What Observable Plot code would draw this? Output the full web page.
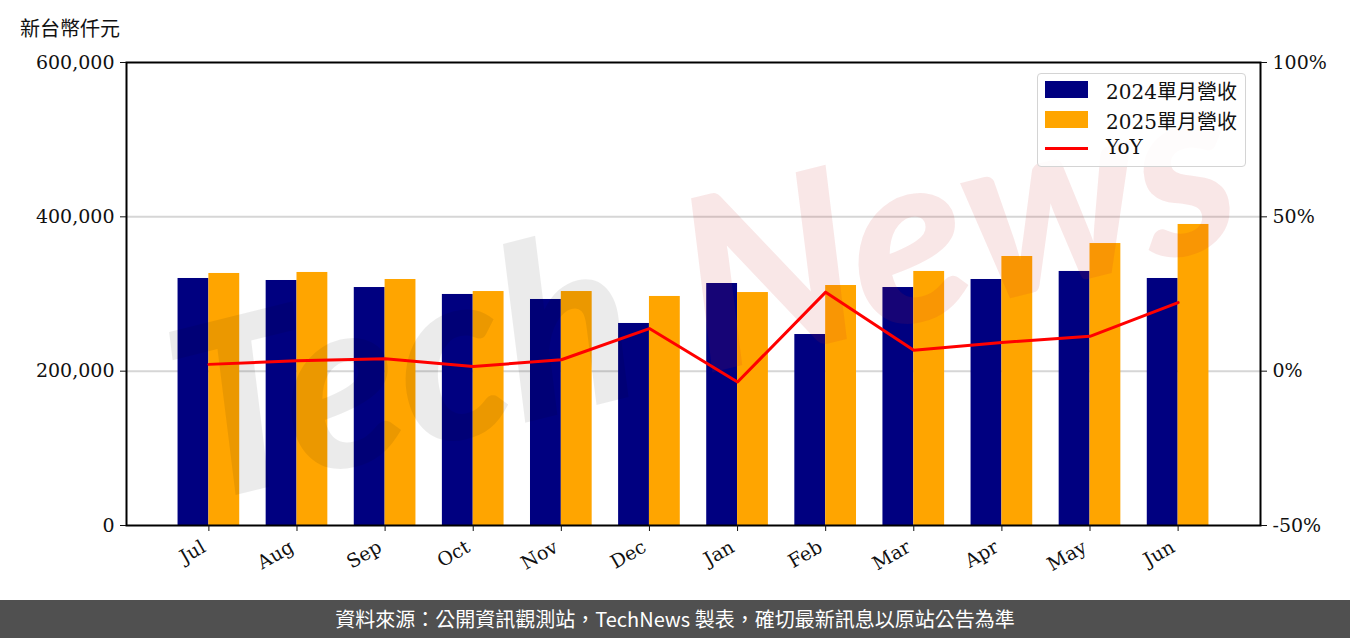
<!DOCTYPE html>
<html>
<head>
<meta charset="utf-8">
<script src="https://cdn.jsdelivr.net/npm/d3@7"></script>
<script src="https://cdn.jsdelivr.net/npm/@observablehq/plot@0.6"></script>
<style>
  html, body { margin: 0; padding: 0; background: #fff; }
  #wrap { position: relative; width: 1350px; height: 638px; overflow: hidden; }
  #title { position: absolute; left: 20px; top: 13px; font: 20px "Noto Sans CJK TC", sans-serif; color: #111; }
  #legend { position: absolute; left: 1037px; top: 73px; width: 207px; height: 92px; border: 1.5px solid #d4d4d4; border-radius: 4px; background: rgba(255,255,255,0.85); }
  .row { position: absolute; left: 0; height: 29px; width: 207px; }
  .sw { position: absolute; left: 7px; width: 43px; }
  .lab { position: absolute; left: 68px; font: 20px "DejaVu Serif", "Noto Sans CJK TC", serif; color: #111; white-space: nowrap; }
  #footer { position: absolute; left: 0; top: 600px; width: 1350px; height: 38px; background: #505050; color: #fff; font: 20px "Noto Sans CJK TC", sans-serif; text-align: center; line-height: 38px; }
  #chart { position: absolute; left: 0; top: 0; }
</style>
</head>
<body>
<div id="wrap">
  <div id="chart"></div>
  <div id="title">新台幣仟元</div>
  <div id="legend"></div>
  <div id="footer">資料來源：公開資訊觀測站，TechNews 製表，確切最新訊息以原站公告為準</div>
</div>
<script>
const months = ["Jul","Aug","Sep","Oct","Nov","Dec","Jan","Feb","Mar","Apr","May","Jun"];
const rev2024 = [320100, 317500, 308400, 299400, 292900, 261800, 313600, 247500, 308400, 318800, 329200, 320100];
const rev2025 = [326600, 327900, 318800, 303200, 303200, 296800, 301900, 311000, 329200, 348600, 365400, 390100];
const yoy = [2.2, 3.4, 4.0, 1.5, 3.7, 13.8, -3.5, 25.6, 6.8, 9.3, 11.3, 22.2];
const leftTicks = [0, 200000, 400000, 600000];
const rightTickLabels = ["-50%", "0%", "50%", "100%"];
const seriesNames = ["2024單月營收", "2025單月營收", "YoY"];
const colors = ["#000080", "#FFA500", "#FF0000"];

// right axis: -50%..100% mapped onto the left 0..600,000 range
const pctToLeft = p => (p + 50) / 150 * 600000;

const data = months.map((m, i) => ({i, m, a: rev2024[i], b: rev2025[i], yoy: yoy[i]}));
const W = 0.35;
const tickFont = `"DejaVu Serif", serif`;

const chart = Plot.plot({
  width: 1350,
  height: 600,
  marginLeft: 126,
  marginRight: 90,
  marginTop: 62,
  marginBottom: 75,
  style: {fontFamily: tickFont, fontSize: "19px", color: "#111", background: "transparent"},
  x: {type: "linear", domain: [-0.935, 11.935], label: null},
  y: {domain: [0, 600000], label: null},
  marks: [
    Plot.gridY([200000, 400000], {stroke: "#d6d6d6", strokeOpacity: 1, strokeWidth: 2}),
    Plot.rectY(data, {x1: d => d.i - W, x2: d => d.i, y1: 0, y2: "a", fill: colors[0], inset: 0}),
    Plot.rectY(data, {x1: d => d.i, x2: d => d.i + W, y1: 0, y2: "b", fill: colors[1], inset: 0}),
    Plot.text(["Tech"], {text: d => d, frameAnchor: "middle", dx: -290, dy: 80, rotate: -14, fontSize: 240, fontFamily: "Lato", fontStyle: "italic", fontWeight: 900, fill: "#000", fillOpacity: 0.08}),
    Plot.text(["News"], {text: d => d, frameAnchor: "middle", dx: 265, dy: -62, rotate: -14, fontSize: 240, fontFamily: "Lato", fontStyle: "italic", fontWeight: 900, fill: "#c82828", fillOpacity: 0.11}),
    Plot.line(data, {x: "i", y: d => pctToLeft(d.yoy), stroke: colors[2], strokeWidth: 3}),
    Plot.frame({stroke: "#000", strokeWidth: 2}),
    Plot.axisY(leftTicks, {anchor: "left", tickSize: 6, tickPadding: 6, tickFormat: d3.format(","), label: null, fontSize: 19}),
    Plot.axisY(leftTicks, {anchor: "right", tickSize: 6, tickPadding: 6, tickFormat: (d, k) => rightTickLabels[leftTicks.indexOf(d)], label: null, fontSize: 19}),
    Plot.axisX(d3.range(months.length), {anchor: "bottom", tickSize: 6, fill: null, label: null}),
    Plot.axisX(d3.range(months.length), {anchor: "bottom", tickSize: 0, tickPadding: 20, dx: -5, tickRotate: -30, tickFormat: d => months[d], label: null, fontSize: 19})
  ]
});
document.getElementById("chart").appendChild(chart);

// legend
const legend = document.getElementById("legend");
seriesNames.forEach((name, k) => {
  const row = document.createElement("div");
  row.className = "row";
  row.style.top = (2 + k * 29.5) + "px";
  const sw = document.createElement("div");
  sw.className = "sw";
  if (k < 2) { sw.style.top = "5px"; sw.style.height = "17px"; sw.style.background = colors[k]; }
  else { sw.style.top = "12px"; sw.style.height = "3px"; sw.style.background = colors[k]; }
  const lab = document.createElement("div");
  lab.className = "lab";
  lab.style.top = "0px";
  lab.textContent = name;
  row.appendChild(sw); row.appendChild(lab);
  legend.appendChild(row);
});
</script>
</body>
</html>
